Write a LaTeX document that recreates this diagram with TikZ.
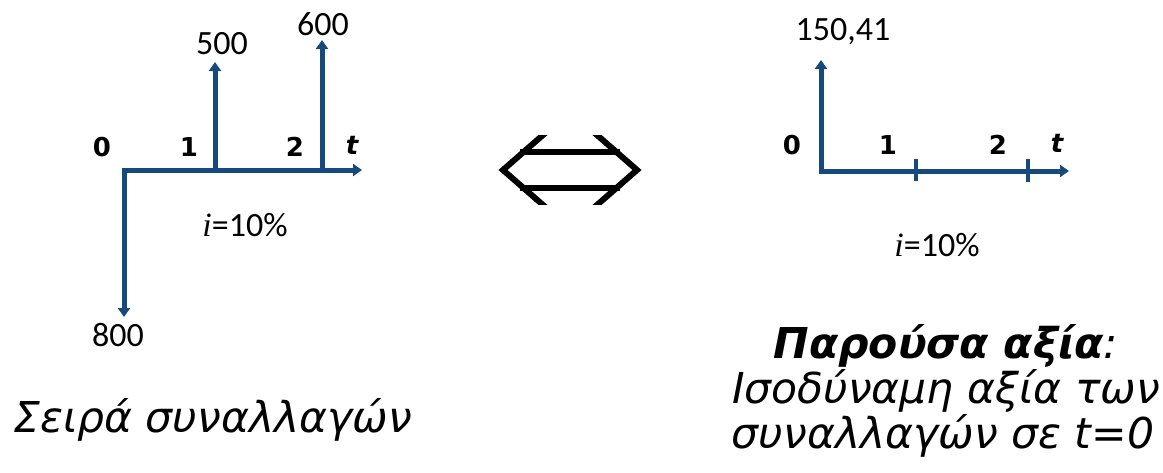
\documentclass[tikz,border=0pt]{standalone}
\usepackage{fontspec}
\setmainfont{Carlito}
\newfontfamily\grk{DejaVu Sans}
\newfontfamily\ser{Liberation Serif}
\usetikzlibrary{arrows.meta}
\definecolor{axisblue}{RGB}{22,74,124}
\begin{document}
\begin{tikzpicture}[x=1pt,y=-1pt,
  axis/.style={draw=axisblue, line width=5pt},
  flow/.style={axis, -{Triangle[length=9pt,width=12pt]}},
  num/.style={font=\fontsize{34}{40}\selectfont, inner sep=0pt},
  lab/.style={font=\grk\fontsize{26}{30}\selectfont\bfseries, inner sep=0pt},
  caption/.style={font=\grk\itshape\fontsize{42.5}{48}\selectfont, inner sep=0pt},
  dbl/.style={draw=black, line width=6pt, line join=miter}]
\useasboundingbox (0,0) rectangle (1163,472);
% ---- left diagram
\coordinate (LO) at (124,170);
\coordinate (LT) at (362,170);
\coordinate (LD) at (124,317);
\coordinate (L1) at (215,170);
\coordinate (L1t) at (215,62);
\coordinate (L2) at (322,170);
\coordinate (L2t) at (322,40);
\draw[axis, line join=miter, {Triangle[length=9pt,width=12pt]}-{Triangle[length=9pt,width=12pt]}] (LD) -- (LO) -- (LT);
\draw[flow] (L1) -- (L1t);
\draw[flow] (L2) -- (L2t);
\node[num] (v500) at (222,44) {500};
\node[num] (v600) at (323,24) {600};
\node[num] (v800) at (118,335) {800};
\node[lab] (l0) at (102,147) {0};
\node[lab] (l1) at (189,147) {1};
\node[lab] (l2) at (295,147) {2};
\node[lab] (lt) at (352,145) {\itshape t};
\node[num] (lr) at (245,225) {{\ser\itshape i}=10\%};
% ---- double arrow
\begin{scope}
\clip (470,135) rectangle (670,204);
\coordinate (DL) at (503,170);
\coordinate (DR) at (637,170);
\draw[dbl] (551,128) -- (DL) -- (551,212);
\draw[dbl] (589,128) -- (DR) -- (589,212);
\draw[dbl] (520,152) -- (620,152);
\draw[dbl] (520,188) -- (620,188);
\end{scope}
% ---- right diagram
\coordinate (RO) at (821,171);
\coordinate (RU) at (821,60);
\coordinate (RT) at (1069,171);
\coordinate (R1a) at (916,159);
\coordinate (R1b) at (916,181);
\coordinate (R2a) at (1028,159);
\coordinate (R2b) at (1028,182);
\draw[axis, line join=miter, {Triangle[length=9pt,width=12pt]}-{Triangle[length=9pt,width=12pt]}] (RU) -- (RO) -- (RT);
\draw[axis, line width=4pt] (R1a) -- (R1b);
\draw[axis, line width=4pt] (R2a) -- (R2b);
\node[num] (pv) at (843,32) {150,41};
\node[lab] (r0) at (792,145) {0};
\node[lab] (r1) at (888,145) {1};
\node[lab] (r2) at (998,145) {2};
\node[lab] (rt) at (1057,143) {\itshape t};
\node[num] (rr) at (937,245) {{\ser\itshape i}=10\%};
% ---- captions
\node[caption, anchor=base west] (c1) at (13,432) {Σειρά συναλλαγών};
\node[caption, anchor=base] (c2) at (946,358) {\bfseries Παρούσα αξία\mdseries:};
\node[caption, anchor=base] (c3) at (946,403) {Ισοδύναμη αξία των};
\node[caption, anchor=base] (c4) at (943,448) {συναλλαγών σε t=0};
\end{tikzpicture}
\end{document}
